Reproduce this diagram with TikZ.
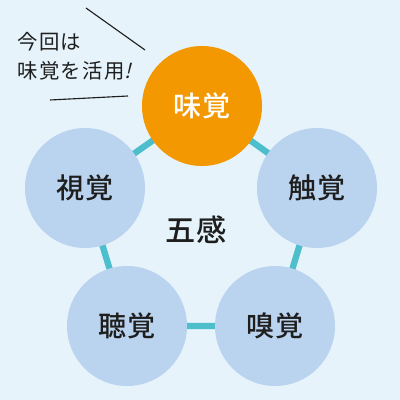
\documentclass[tikz,border=0pt]{standalone}
\usepackage{fontspec}
\setmainfont{Noto Sans CJK JP}[BoldFont={* Medium}]
\newfontfamily\slantjp{Noto Sans CJK JP}[FakeSlant=0.25]
\usetikzlibrary{positioning,calc}
\definecolor{bgBlue}{RGB}{230,243,251}
\definecolor{senseBlue}{RGB}{186,211,238}
\definecolor{tasteOr}{RGB}{243,152,0}
\definecolor{linkTeal}{RGB}{77,190,203}
\definecolor{inkT}{RGB}{30,30,30}

\begin{document}
\begin{tikzpicture}[x=0.025cm, y=-0.025cm,
  sense/.style={circle, fill=#1, minimum size=120*0.025cm, inner sep=0pt,
    font=\fontsize{20}{22}\selectfont\bfseries, text=inkT},
  link/.style={line width=4.5pt, linkTeal},
  note/.style={line width=0.8pt, inkT},
]
\fill[bgBlue] (0,0) rectangle (400,400);
\useasboundingbox (0,0) rectangle (400,400);

% links between the five senses
\coordinate (cT) at (202,106);
\coordinate (cR) at (317,188);
\coordinate (cL) at (85,188);
\coordinate (cBL) at (127,326);
\coordinate (cBR) at (275,326);
\draw[link] (cT) -- (cR) -- (cBR) -- (cBL) -- (cL) -- cycle;

% five senses
\node[sense=tasteOr, text=white] (taste) at (cT) {味覚};
\node[sense=senseBlue] (touch) at (cR) {触覚};
\node[sense=senseBlue] (sight) at (cL) {視覚};
\node[sense=senseBlue] (hear) at (cBL) {聴覚};
\node[sense=senseBlue] (smell) at (cBR) {嗅覚};

\node[font=\fontsize{21.5}{24}\selectfont\bfseries, text=inkT] (five) at (196,230) {五感};

% callout
\node[align=left, font=\fontsize{14.5}{20.5}\selectfont\addfontfeature{LetterSpace=7},
  text=inkT, anchor=north west, inner sep=0pt] (callout) at (17,32)
  {今回は\\味覚を活用{\slantjp !}};
\coordinate (n1a) at (86,8);
\coordinate (n1b) at (145,50);
\coordinate (n2a) at (50,100);
\coordinate (n2b) at (128,96);
\draw[note] (n1a) -- (n1b);
\draw[note] (n2a) -- (n2b);

\end{tikzpicture}
\end{document}
